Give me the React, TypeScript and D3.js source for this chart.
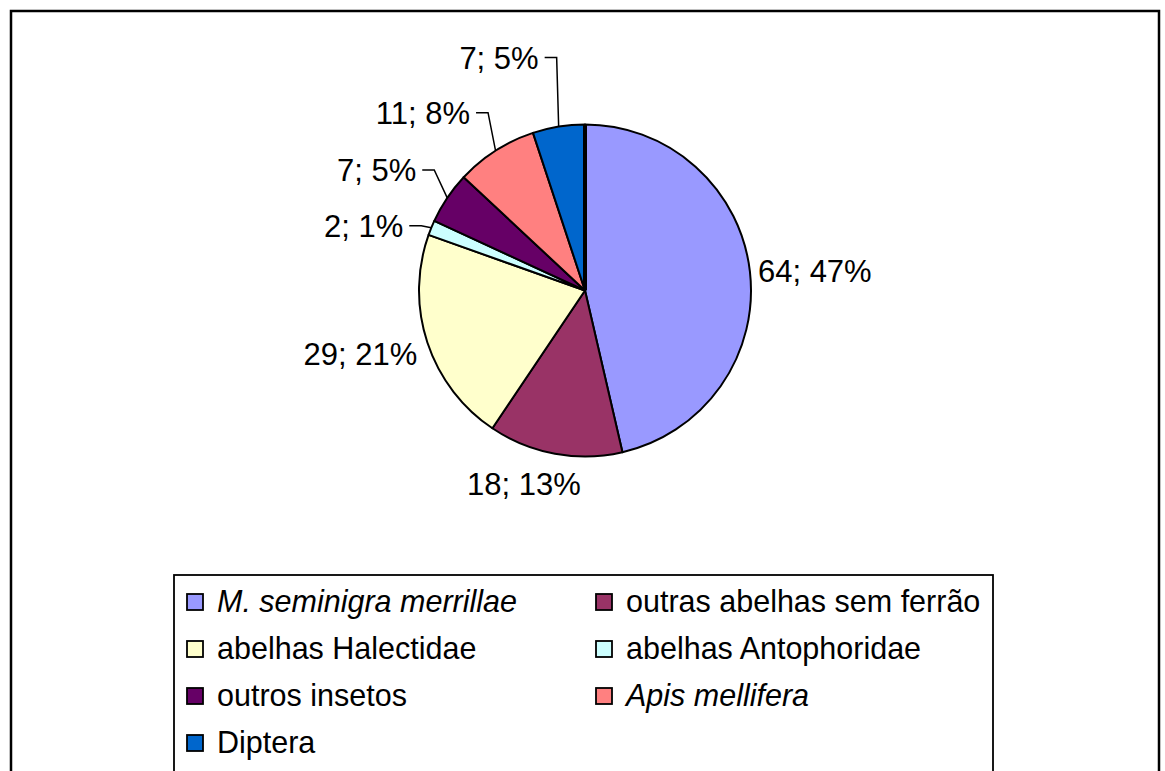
import React from "react";
import * as d3 from "d3";

const categories = [
  "M. seminigra merrillae",
  "outras abelhas sem ferrão",
  "abelhas Halectidae",
  "abelhas Antophoridae",
  "outros insetos",
  "Apis mellifera",
  "Diptera",
];
const values = [64, 18, 29, 2, 7, 11, 7];
const percentLabels = ["47%", "13%", "21%", "1%", "5%", "8%", "5%"];
const italicCategory = [true, false, false, false, false, true, false];
const colors = ["#9999FF", "#993366", "#FFFFCC", "#CCFFFF", "#660066", "#FF8080", "#0066CC"];

// label layout: mode, offset from arc midpoint (dx, dy)
const labelLayout: { leader: boolean; dx: number; dy: number; anchor: string }[] = [
  { leader: false, dx: 8, dy: 10, anchor: "start" },
  { leader: false, dx: -31, dy: 41, anchor: "middle" },
  { leader: false, dx: -10, dy: 22, anchor: "end" },
  { leader: true, dx: -10, dy: -2, anchor: "end" },
  { leader: true, dx: -13, dy: -28, anchor: "end" },
  { leader: true, dx: -7.5, dy: -38, anchor: "end" },
  { leader: true, dx: -2, dy: -69, anchor: "end" },
];

const W = 1165;
const H = 771;
const cx = 585;
const cy = 290.5;
const R = 166;
const FONT = "'Liberation Sans', Arial, Helvetica, sans-serif";

export default function App() {
  const pie = d3
    .pie<number>()
    .sort(null)
    .value((d) => d)
    .startAngle(0)
    .endAngle(2 * Math.PI);
  const arcs = pie(values);
  const arcGen = d3.arc<d3.PieArcDatum<number>>().innerRadius(0).outerRadius(R);

  const legendX = 174;
  const legendY = 575;
  const legendW = 819;
  const colX = [186, 595];
  const rowStep = 47;
  const sw = 17;

  return (
    <svg
      width={W}
      height={H}
      style={{ position: "absolute", left: 0, top: 0, background: "#fff" }}
      fontFamily={FONT}
    >
      <rect x={0} y={0} width={W} height={H} fill="#fff" />
      <rect x={11} y={11} width={1148} height={820} fill="#fff" stroke="#000" strokeWidth={2.5} />

      <g transform={`translate(${cx},${cy})`}>
        {arcs.map((a, i) => (
          <path key={i} d={arcGen(a) || ""} fill={colors[i]} stroke="#000" strokeWidth={2} strokeLinejoin="round" />
        ))}
        {(() => {
          const p = d3.pointRadial(arcs[0].startAngle, R);
          return <line x1={0} y1={0} x2={p[0]} y2={p[1]} stroke="#000" strokeWidth={4} />;
        })()}
      </g>

      {arcs.map((a, i) => {
        const mid = (a.startAngle + a.endAngle) / 2;
        const [px, py] = d3.pointRadial(mid, R);
        const ax = cx + px;
        const ay = cy + py;
        const lay = labelLayout[i];
        const text = `${values[i]}; ${percentLabels[i]}`;
        if (!lay.leader) {
          return (
            <text key={i} x={ax + lay.dx} y={ay + lay.dy} fontSize={31} textAnchor={lay.anchor} fill="#000">
              {text}
            </text>
          );
        }
        const ex = ax + lay.dx;
        const ey = ay + lay.dy;
        return (
          <g key={i}>
            <polyline
              points={`${ex - 12},${ey} ${ex},${ey} ${ax},${ay}`}
              fill="none"
              stroke="#000"
              strokeWidth={1.5}
            />
            <text x={ex - 18} y={ey + 11.5} fontSize={31} textAnchor="end" fill="#000">
              {text}
            </text>
          </g>
        );
      })}

      <rect x={legendX} y={legendY} width={legendW} height={260} fill="#fff" stroke="#000" strokeWidth={1.8} />
      {categories.map((c, i) => {
        const col = i % 2;
        const row = Math.floor(i / 2);
        const baseY = 612 + row * rowStep;
        return (
          <g key={c}>
            <rect
              x={colX[col] + 1}
              y={baseY - 18}
              width={sw - 1}
              height={sw - 1}
              fill={colors[i]}
              stroke="#000"
              strokeWidth={1.8}
            />
            <text
              x={colX[col] + 31}
              y={baseY}
              fontSize={30.5}
              fontStyle={italicCategory[i] ? "italic" : "normal"}
              fill="#000"
            >
              {c}
            </text>
          </g>
        );
      })}
    </svg>
  );
}
